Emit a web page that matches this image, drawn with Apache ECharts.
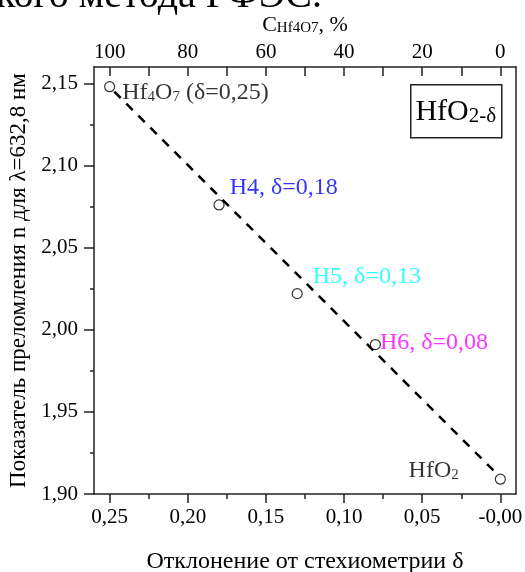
<!DOCTYPE html>
<html>
<head>
<meta charset="utf-8">
<script src="https://cdn.jsdelivr.net/npm/echarts@6/dist/echarts.min.js"></script>
<style>
html,body{margin:0;padding:0;background:#fff;}
#chart{width:525px;height:572px;}
</style>
</head>
<body>
<div id="chart"></div>
<script>
// ---- data ----
const pointNames = ['Hf4O7', 'H4', 'H5', 'H6', 'HfO2'];
const deltaValues = [0.25, 0.18, 0.13, 0.08, 0.00];
const nValues = [2.148, 2.076, 2.022, 1.991, 1.909];
const fitDelta = [0.247, 0.003];
const fitN = [2.145, 1.913];
const xMajorTicks = [0.25, 0.20, 0.15, 0.10, 0.05, 0.00];
const xTickLabels = ['0,25', '0,20', '0,15', '0,10', '0,05', '-0,00'];
const xMinorTicks = [0.225, 0.175, 0.125, 0.075, 0.025];
const topMajorTicks = [100, 80, 60, 40, 20, 0];
const topTickLabels = ['100', '80', '60', '40', '20', '0'];
const topAllTicks = [100, 90, 80, 70, 60, 50, 40, 30, 20, 10, 0];
const yMajorTicks = [1.90, 1.95, 2.00, 2.05, 2.10, 2.15];
const yTickLabels = ['1,90', '1,95', '2,00', '2,05', '2,10', '2,15'];
const yMinorTicks = [1.925, 1.975, 2.025, 2.075, 2.125];

const FONT = '"Liberation Serif", "Times New Roman", serif';
const AXC = '#222';

function lookup(vals, labels, v) {
  for (let i = 0; i < vals.length; i++) if (Math.abs(vals[i] - v) < 1e-6) return labels[i];
  return '';
}

function richFor(color) {
  return {
    m: { fontFamily: FONT, fontSize: 24, lineHeight: 24, verticalAlign: 'top', color: color },
    s: { fontFamily: FONT, fontSize: 15, lineHeight: 15, verticalAlign: 'bottom', padding: [13, 0, 0, 0], color: color }
  };
}

const labelCfg = [
  { position: 'right', distance: 7, offset: [0, 6], formatter: '{m|Hf}{s|4}{m|O}{s|7}{m| (δ=0,25)}', rich: richFor('#000') },
  { position: 'right', distance: 5, offset: [0, -17], formatter: '{m|H4, δ=0,18}', rich: richFor('#0000ff') },
  { position: 'right', distance: 10, offset: [0, -17], formatter: '{m|H5, δ=0,13}', rich: richFor('#00ffff') },
  { position: 'right', distance: 0, offset: [-1, -2], formatter: '{m|H6, δ=0,08}', rich: richFor('#ff00ff') },
  { position: 'left', distance: 36, offset: [0, -9], formatter: '{m|HfO}{s|2}', rich: richFor('#000') }
];

const scatterData = deltaValues.map((d, i) => ({
  name: pointNames[i],
  value: [d, nValues[i]],
  label: Object.assign({ show: true }, labelCfg[i])
}));

const fitData = fitDelta.map((d, i) => [d, fitN[i]]);

const X_MIN = -0.01, X_MAX = 0.26;
const Y_MIN = 1.90, Y_MAX = 2.16;

const chart = echarts.init(document.getElementById('chart'), null, { renderer: 'canvas' });
chart.setOption({
  backgroundColor: '#fff',
  animation: false,
  grid: { left: 94, right: 9, top: 67, bottom: 78, containLabel: false, outerBoundsMode: 'none' },
  xAxis: [
    {
      type: 'value', position: 'bottom', min: X_MIN, max: X_MAX, inverse: true,
      axisLine: { show: true, onZero: false, lineStyle: { color: AXC, width: 1.5 } },
      axisTick: { show: true, inside: false, length: 9, customValues: xMajorTicks, lineStyle: { color: AXC, width: 1.5 } },
      axisLabel: { show: true, customValues: xMajorTicks, margin: 13, fontFamily: FONT, fontSize: 21, color: '#000',
        hideOverlap: false, formatter: v => lookup(xMajorTicks, xTickLabels, v) },
      splitLine: { show: false },
      name: 'Отклонение от стехиометрии δ', nameLocation: 'middle', nameGap: 56,
      nameTextStyle: { fontFamily: FONT, fontSize: 24, color: '#000' }
    },
    {
      type: 'value', position: 'bottom', min: X_MIN, max: X_MAX, inverse: true,
      axisLine: { show: false, onZero: false },
      axisTick: { show: true, inside: false, length: 5, customValues: xMinorTicks, lineStyle: { color: AXC, width: 1.5 } },
      axisLabel: { show: false },
      splitLine: { show: false }
    },
    {
      type: 'value', position: 'top', min: X_MIN * 400, max: X_MAX * 400, inverse: true,
      axisLine: { show: true, onZero: false, lineStyle: { color: AXC, width: 1.5 } },
      axisTick: { show: true, inside: true, length: 9, customValues: topAllTicks, lineStyle: { color: AXC, width: 1.5 } },
      axisLabel: { show: true, customValues: topMajorTicks, margin: 4, fontFamily: FONT, fontSize: 21, color: '#000',
        formatter: v => lookup(topMajorTicks, topTickLabels, v) },
      splitLine: { show: false },
      name: '{c|C}{s|Hf4O7}{c|, %}', nameLocation: 'middle', nameGap: 31,
      nameTextStyle: {
        rich: {
          c: { fontFamily: FONT, fontSize: 22, lineHeight: 22, verticalAlign: 'top', color: '#000' },
          s: { fontFamily: FONT, fontSize: 15, lineHeight: 15, verticalAlign: 'bottom', padding: [11, 0, 0, 0], color: '#000' }
        }
      }
    }
  ],
  yAxis: [
    {
      type: 'value', position: 'left', min: Y_MIN, max: Y_MAX,
      axisLine: { show: true, onZero: false, lineStyle: { color: AXC, width: 1.5 } },
      axisTick: { show: true, inside: false, length: 10, customValues: yMajorTicks, lineStyle: { color: AXC, width: 1.5 } },
      axisLabel: { show: true, customValues: yMajorTicks, margin: 16, fontFamily: FONT, fontSize: 21, color: '#000',
        formatter: v => lookup(yMajorTicks, yTickLabels, v) },
      splitLine: { show: false },
      name: 'Показатель преломления n для λ=632,8 нм', nameLocation: 'middle', nameGap: 61,
      nameTextStyle: { fontFamily: FONT, fontSize: 23, color: '#000' }
    },
    {
      type: 'value', position: 'left', min: Y_MIN, max: Y_MAX,
      axisLine: { show: false, onZero: false },
      axisTick: { show: true, inside: false, length: 4, customValues: yMinorTicks, lineStyle: { color: AXC, width: 1.5 } },
      axisLabel: { show: false },
      splitLine: { show: false }
    },
    {
      type: 'value', position: 'right', min: Y_MIN, max: Y_MAX,
      axisLine: { show: true, onZero: false, lineStyle: { color: AXC, width: 1.5 } },
      axisTick: { show: false },
      axisLabel: { show: false },
      splitLine: { show: false }
    }
  ],
  series: [
    {
      type: 'line', xAxisIndex: 0, yAxisIndex: 0, data: fitData,
      symbol: 'none', silent: true, z: 1,
      lineStyle: { color: '#000', width: 2.5, type: [9, 8] }
    },
    {
      type: 'scatter', xAxisIndex: 0, yAxisIndex: 0, data: scatterData,
      symbol: 'circle', symbolSize: 10, z: 3,
      itemStyle: { color: '#fff', borderColor: '#000', borderWidth: 1.2 }
    }
  ],
  graphic: [
    {
      type: 'text', left: -4, top: -24, silent: true,
      style: { text: 'кого метода РФЭС.', fontFamily: FONT, fontSize: 40, fill: '#000' }
    },
    {
      type: 'group', left: 410, top: 84,
      children: [
        { type: 'rect', shape: { x: 0, y: 0, width: 91, height: 53 }, style: { fill: '#fff', stroke: '#222', lineWidth: 1.5 } },
        { type: 'text', x: 45, y: 27, style: {
            text: '{a|HfO}{b|2-δ}', align: 'center', verticalAlign: 'middle',
            rich: {
              a: { fontFamily: FONT, fontSize: 30, lineHeight: 30, verticalAlign: 'top', fill: '#000' },
              b: { fontFamily: FONT, fontSize: 21, lineHeight: 21, verticalAlign: 'bottom', padding: [15, 0, 0, 0], fill: '#000' }
            } } }
      ]
    }
  ]
});
</script>
</body>
</html>
